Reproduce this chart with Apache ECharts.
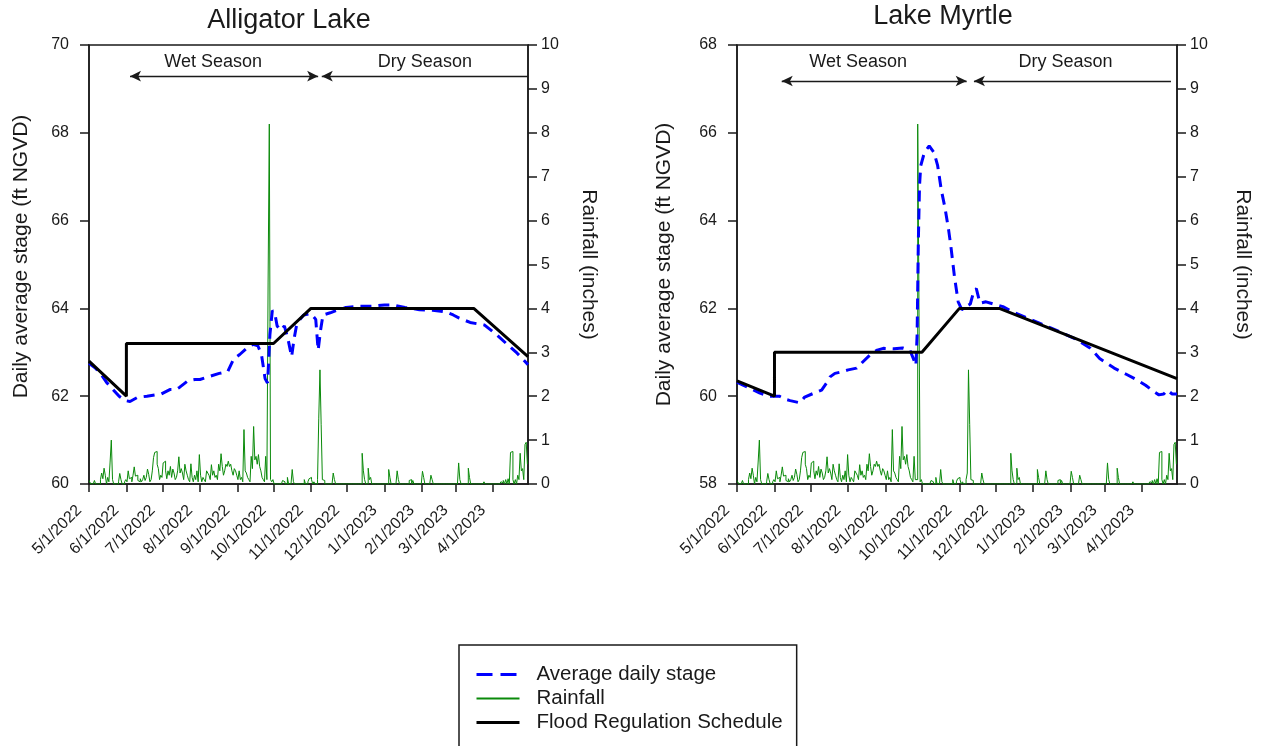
<!DOCTYPE html>
<html>
<head>
<meta charset="utf-8">
<script src="https://cdn.jsdelivr.net/npm/echarts@6.0.0/dist/echarts.min.js"></script>
<style>
  html, body { margin: 0; padding: 0; background: #fff; }
  #chart { width: 1267px; height: 746px; }
</style>
</head>
<body>
<div id="chart"></div>
<script>
// ---- Period of record (water year May 2022 - April 2023) ----
const periodStart = '2022-05-01';
const periodEnd = '2023-04-30';
const monthTicks = ['2022-05-01', '2022-06-01', '2022-07-01', '2022-08-01', '2022-09-01', '2022-10-01',
  '2022-11-01', '2022-12-01', '2023-01-01', '2023-02-01', '2023-03-01', '2023-04-01'];

// ---- Daily rainfall (inches), Alligator Lake gauge, one array per month ----
const rainMay = [0.08, 0.05, 0, 0, 0, 0.08, 0, 0, 0, 0, 0.10, 0.25, 0.12, 0.36, 0.20, 0, 0.15, 0.05, 0.50, 1.00,
  0.10, 0, 0, 0, 0, 0.05, 0.24, 0.10, 0, 0, 0.05];
const rainJun = [0.10, 0.05, 0.30, 0.12, 0.15, 0.05, 0.20, 0.39, 0.18, 0.20, 0.08, 0.05, 0.12, 0.05, 0.10, 0.20,
  0.08, 0.15, 0.34, 0.22, 0.05, 0.10, 0.30, 0.60, 0.72, 0.74, 0.45, 0.35, 0.10, 0.20];
const rainJul = [0.15, 0.48, 0.52, 0.30, 0.12, 0.30, 0.20, 0.40, 0.15, 0.34, 0.25, 0.10, 0.15, 0.30, 0.62, 0.25,
  0.35, 0.25, 0.10, 0.45, 0.30, 0.20, 0.10, 0.05, 0.46, 0.15, 0.05, 0.20, 0.10, 0.30, 0.05];
const rainAug = [0.67, 0.20, 0.05, 0.15, 0.10, 0.05, 0.30, 0.25, 0.20, 0.10, 0.44, 0.20, 0.30, 0.15, 0.20, 0.10,
  0.45, 0.30, 0.69, 0.40, 0.20, 0.30, 0.45, 0.40, 0.52, 0.40, 0.45, 0.30, 0.20, 0.35, 0.30];
const rainSep = [0.20, 0.10, 0.30, 0.10, 0.15, 0.05, 1.24, 0.30, 0.25, 0.15, 0.10, 0.05, 0.63, 0.35, 1.31, 0.55,
  0.63, 0.45, 0.67, 0.40, 0.30, 0.15, 0.10, 0.05, 0.63, 0.10, 4.60, 8.20, 0.10, 0.05];
const rainOct = [0.10, 0, 0, 0, 0, 0, 0, 0, 0.08, 0.05, 0, 0, 0.15, 0, 0, 0, 0.33, 0.05, 0, 0,
  0, 0, 0, 0, 0, 0, 0.10, 0, 0, 0.05, 0.12];
const rainNov = [0.15, 0.10, 0, 0.05, 0, 0, 0.10, 1.50, 2.60, 1.35, 0.10, 0.08, 0, 0, 0, 0, 0, 0, 0, 0.25,
  0.10, 0, 0, 0, 0, 0, 0, 0, 0, 0];
const rainDec = [0, 0, 0, 0, 0, 0, 0, 0, 0, 0, 0, 0, 0, 0.70, 0.30, 0.10, 0, 0, 0.36, 0.10,
  0.15, 0, 0, 0, 0, 0, 0, 0, 0, 0, 0];
const rainJan = [0, 0, 0, 0, 0.33, 0.15, 0, 0, 0, 0, 0, 0.30, 0.10, 0, 0, 0, 0, 0, 0, 0,
  0, 0.08, 0.10, 0, 0.08, 0, 0, 0, 0, 0, 0];
const rainFeb = [0, 0.29, 0.15, 0, 0, 0, 0, 0, 0.20, 0.10, 0, 0, 0, 0, 0, 0, 0, 0, 0, 0,
  0, 0, 0, 0, 0, 0, 0, 0];
const rainMar = [0, 0, 0, 0.48, 0.10, 0, 0, 0, 0, 0, 0, 0.36, 0.15, 0, 0, 0, 0, 0, 0, 0,
  0, 0, 0, 0, 0.05, 0, 0, 0, 0, 0, 0];
const rainApr = [0, 0, 0, 0, 0.03, 0, 0, 0.05, 0.03, 0.08, 0, 0.10, 0, 0.12, 0, 0.72, 0.74, 0.10, 0, 0.10,
  0, 0.20, 0.10, 0.70, 0.30, 0.35, 0.10, 0.90, 0.95, 0.45];

// Days where the Lake Myrtle gauge recorded a different total
const rainMyrtleDiffers = [['2022-09-27', 0.10], ['2022-09-28', 8.20], ['2022-09-29', 4.20], ['2022-11-08', 0.25]];

// ---- Average daily stage (ft NGVD) ----
const stageAlligator = [
  ['2022-05-01', 62.75], ['2022-05-06', 62.65], ['2022-05-11', 62.50], ['2022-05-16', 62.30], ['2022-05-21', 62.15],
  ['2022-05-26', 62.00], ['2022-05-31', 61.90], ['2022-06-04', 61.88], ['2022-06-10', 61.97], ['2022-06-18', 62.00],
  ['2022-06-25', 62.03], ['2022-06-30', 62.05], ['2022-07-07', 62.15], ['2022-07-12', 62.15], ['2022-07-15', 62.20],
  ['2022-07-22', 62.35], ['2022-07-28', 62.38], ['2022-08-01', 62.38], ['2022-08-09', 62.45], ['2022-08-17', 62.52],
  ['2022-08-24', 62.56], ['2022-08-29', 62.85], ['2022-09-03', 62.95], ['2022-09-09', 63.10], ['2022-09-14', 63.18],
  ['2022-09-18', 63.15], ['2022-09-21', 62.95], ['2022-09-24', 62.40], ['2022-09-26', 62.30], ['2022-09-27', 62.80],
  ['2022-09-28', 63.40], ['2022-09-30', 63.95], ['2022-10-02', 63.90], ['2022-10-04', 63.60], ['2022-10-07', 63.50],
  ['2022-10-10', 63.60], ['2022-10-13', 63.30], ['2022-10-16', 62.90], ['2022-10-18', 63.30], ['2022-10-20', 63.60],
  ['2022-10-23', 63.75], ['2022-10-26', 63.85], ['2022-11-01', 63.88], ['2022-11-05', 63.75], ['2022-11-07', 63.05],
  ['2022-11-09', 63.50], ['2022-11-11', 63.85], ['2022-11-17', 63.90], ['2022-11-22', 63.95], ['2022-11-30', 64.02],
  ['2022-12-12', 64.05], ['2022-12-22', 64.05], ['2023-01-01', 64.08], ['2023-01-08', 64.08], ['2023-01-18', 64.02],
  ['2023-01-30', 63.97], ['2023-02-10', 63.96], ['2023-02-21', 63.92], ['2023-02-27', 63.85], ['2023-03-04', 63.78],
  ['2023-03-13', 63.68], ['2023-03-25', 63.62], ['2023-04-04', 63.40], ['2023-04-12', 63.20], ['2023-04-21', 62.98],
  ['2023-04-30', 62.72]
];
const stageMyrtle = [
  ['2022-05-01', 60.32], ['2022-05-06', 60.25], ['2022-05-12', 60.18], ['2022-05-20', 60.07], ['2022-05-28', 60.00],
  ['2022-06-05', 60.00], ['2022-06-10', 59.93], ['2022-06-14', 59.90], ['2022-06-22', 59.85], ['2022-06-26', 59.98],
  ['2022-07-02', 60.05], ['2022-07-10', 60.14], ['2022-07-14', 60.30], ['2022-07-17', 60.44], ['2022-07-21', 60.52],
  ['2022-07-26', 60.55], ['2022-08-01', 60.60], ['2022-08-08', 60.64], ['2022-08-13', 60.78], ['2022-08-19', 60.94],
  ['2022-08-25', 61.05], ['2022-08-30', 61.09], ['2022-09-08', 61.08], ['2022-09-15', 61.10], ['2022-09-21', 61.05],
  ['2022-09-24', 60.85], ['2022-09-26', 60.70], ['2022-09-27', 61.40], ['2022-09-28', 63.50], ['2022-09-29', 64.80],
  ['2022-09-30', 65.25], ['2022-10-03', 65.55], ['2022-10-07', 65.70], ['2022-10-11', 65.55], ['2022-10-14', 65.25],
  ['2022-10-17', 64.70], ['2022-10-20', 64.30], ['2022-10-23', 63.80], ['2022-10-25', 63.40], ['2022-10-28', 62.70],
  ['2022-10-31', 62.15], ['2022-11-03', 61.97], ['2022-11-07', 62.05], ['2022-11-10', 62.10], ['2022-11-13', 62.40],
  ['2022-11-15', 62.45], ['2022-11-18', 62.12], ['2022-11-23', 62.15], ['2022-11-29', 62.10], ['2022-12-07', 62.04],
  ['2022-12-15', 61.92], ['2022-12-30', 61.75], ['2023-01-16', 61.55], ['2023-02-04', 61.32], ['2023-02-17', 61.10],
  ['2023-02-25', 60.86], ['2023-03-09', 60.64], ['2023-03-19', 60.50], ['2023-03-28', 60.37], ['2023-04-04', 60.25],
  ['2023-04-11', 60.10], ['2023-04-15', 60.03], ['2023-04-19', 60.05], ['2023-04-22', 60.14], ['2023-04-26', 60.05],
  ['2023-04-30', 60.05]
];

// ---- Flood regulation schedule (ft NGVD), break points ----
const scheduleAlligator = [['2022-05-01', 62.8], ['2022-06-01', 62.0], ['2022-06-01', 63.2], ['2022-10-01', 63.2],
  ['2022-11-01', 64.0], ['2023-03-16', 64.0], ['2023-04-30', 62.9]];
const scheduleMyrtle = [['2022-05-01', 60.35], ['2022-06-01', 60.0], ['2022-06-01', 61.0], ['2022-10-01', 61.0],
  ['2022-11-01', 62.0], ['2022-12-04', 62.0], ['2023-04-30', 60.4]];

// ---- Season spans drawn as arrows across the top of each panel ----
const seasonsAlligator = [['Wet Season', '2022-06-04', '2022-11-07'], ['Dry Season', '2022-11-10', '2023-04-30']];
const seasonsMyrtle = [['Wet Season', '2022-06-07', '2022-11-07'], ['Dry Season', '2022-11-13', '2023-04-25']];

// ---------------------------------------------------------------------------
const FONT = '"Liberation Sans", Arial, Helvetica, sans-serif';
const INK = '#1a1a1a';

function toTime(s) {
  const [y, m, d] = s.split('-').map(Number);
  return new Date(y, m - 1, d).getTime();
}
function fmtDate(v) {
  const d = new Date(v);
  return (d.getMonth() + 1) + '/' + d.getDate() + '/' + d.getFullYear();
}
const withTime = rows => rows.map(r => [toTime(r[0]), r[1]]);

// Expand the monthly arrays into a [time, inches] daily list
const rainMonths = [rainMay, rainJun, rainJul, rainAug, rainSep, rainOct, rainNov, rainDec, rainJan, rainFeb, rainMar, rainApr];
function dailyRain(overrides) {
  const out = [];
  rainMonths.forEach((month, mi) => {
    month.forEach((v, di) => {
      out.push([new Date(2022, 4 + mi, di + 1).getTime(), v]);
    });
  });
  const byTime = new Map(out.map((p, i) => [p[0], i]));
  (overrides || []).forEach(([d, v]) => { out[byTime.get(toTime(d))][1] = v; });
  return out;
}

const tickTimes = monthTicks.map(toTime);
const lineStyleAxis = { color: INK, width: 1.5 };

// Dates are plotted on a linear millisecond axis with month-start ticks
function xAxisFor(gi) {
  return {
    type: 'value', gridIndex: gi, min: toTime(periodStart), max: toTime(periodEnd),
    axisLine: { show: true, onZero: false, lineStyle: lineStyleAxis },
    axisTick: { show: true, customValues: tickTimes, length: 8, lineStyle: lineStyleAxis },
    axisLabel: { customValues: tickTimes, formatter: fmtDate, rotate: 45, margin: 14, padding: [0, 14, 0, 0],
      fontSize: 16, fontFamily: FONT, color: INK },
    splitLine: { show: false }
  };
}
function stageAxisFor(gi, min, max, gap, namePad) {
  return {
    type: 'value', gridIndex: gi, position: 'left', min: min, max: max, interval: 2,
    name: 'Daily average stage (ft NGVD)', nameLocation: 'middle', nameRotate: 90, nameGap: gap,
    nameTextStyle: { fontSize: 21, fontFamily: FONT, color: INK, padding: namePad },
    axisLine: { show: true, lineStyle: lineStyleAxis },
    axisTick: { show: true, length: 9, lineStyle: lineStyleAxis },
    axisLabel: { margin: 20, fontSize: 16, fontFamily: FONT, color: INK },
    splitLine: { show: false }
  };
}
function rainAxisFor(gi, gap) {
  return {
    type: 'value', gridIndex: gi, position: 'right', min: 0, max: 10, interval: 1,
    name: 'Rainfall (inches)', nameLocation: 'middle', nameRotate: -90, nameGap: gap,
    nameTextStyle: { fontSize: 21, fontFamily: FONT, color: INK },
    axisLine: { show: true, lineStyle: lineStyleAxis },
    axisTick: { show: true, length: 9, lineStyle: lineStyleAxis },
    axisLabel: { margin: 13, fontSize: 16, fontFamily: FONT, color: INK },
    splitLine: { show: false }
  };
}
// Season arrows: the wet span has heads at both ends, the dry span only at its start
function seasonMarks(seasons, level, labelDistance, labelShifts) {
  return {
    silent: true, animation: false,
    symbolSize: [8, 11],
    lineStyle: { color: INK, width: 1.3, type: 'solid' },
    label: { show: true, position: 'insideMiddleTop', distance: labelDistance, formatter: '{b}',
      fontSize: 18, fontFamily: FONT, color: INK },
    data: seasons.map(([name, a, b], i) => [
      { name: name, coord: [toTime(a), level], symbol: 'arrow', label: { offset: [labelShifts[i], 0] } },
      { coord: [toTime(b), level], symbol: i === 0 ? 'arrow' : 'none' }
    ])
  };
}
function panelSeries(gi, rain, stage, schedule, seasons, level, labelDistance, labelShifts) {
  return [
    { name: 'Rainfall', type: 'line', xAxisIndex: gi, yAxisIndex: gi * 2 + 1, step: 'middle',
      symbol: 'none', data: rain, lineStyle: { color: '#0a8a0a', width: 1 }, itemStyle: { color: '#0a8a0a' }, z: 2 },
    { name: 'Average daily stage', type: 'line', xAxisIndex: gi, yAxisIndex: gi * 2,
      symbol: 'none', data: withTime(stage),
      lineStyle: { color: '#0000ff', width: 3, type: [11, 7], cap: 'butt' }, itemStyle: { color: '#0000ff' }, z: 3 },
    { name: 'Flood Regulation Schedule', type: 'line', xAxisIndex: gi, yAxisIndex: gi * 2,
      symbol: 'none', data: withTime(schedule),
      lineStyle: { color: '#000000', width: 3 }, itemStyle: { color: '#000000' }, z: 4,
      markLine: seasonMarks(seasons, level, labelDistance, labelShifts) }
  ];
}

const chart = echarts.init(document.getElementById('chart'), null, { renderer: 'canvas' });
chart.setOption({
  animation: false,
  backgroundColor: '#ffffff',
  graphic: [
    { type: 'text', x: 289, y: 21, style: { text: 'Alligator Lake', font: '27px ' + FONT, fill: INK,
      align: 'center', verticalAlign: 'middle', textAlign: 'center', textVerticalAlign: 'middle' } },
    { type: 'text', x: 943, y: 17, style: { text: 'Lake Myrtle', font: '27px ' + FONT, fill: INK,
      align: 'center', verticalAlign: 'middle', textAlign: 'center', textVerticalAlign: 'middle' } }
  ],
  grid: [
    { left: 89, top: 45, width: 439, height: 439, show: true, borderColor: INK, borderWidth: 1.5, backgroundColor: 'transparent' },
    { left: 737, top: 45, width: 440, height: 439, show: true, borderColor: INK, borderWidth: 1.5, backgroundColor: 'transparent' }
  ],
  xAxis: [xAxisFor(0), xAxisFor(1)],
  yAxis: [stageAxisFor(0, 60, 70, 57, [0, 0, 0, 16]), rainAxisFor(0, 50), stageAxisFor(1, 58, 68, 62, 0), rainAxisFor(1, 55)],
  legend: {
    left: 459, top: 645, height: 140, orient: 'vertical', selectedMode: false,
    data: [
      { name: 'Average daily stage', lineStyle: { type: [16, 8], width: 3 } },
      { name: 'Rainfall', lineStyle: { width: 2 } },
      { name: 'Flood Regulation Schedule', lineStyle: { width: 3 } }
    ],
    itemWidth: 43, itemHeight: 14, itemGap: 3,
    padding: [19, 14, 40, 16],
    borderColor: INK, borderWidth: 1.5,
    itemStyle: { opacity: 0 },
    textStyle: { fontSize: 20.5, fontFamily: FONT, color: INK, lineHeight: 20, padding: [0, 0, 0, 12] }
  },
  series: [
    ...panelSeries(0, dailyRain(), stageAlligator, scheduleAlligator, seasonsAlligator, 69.29, 5, [-11, 0]),
    ...panelSeries(1, dailyRain(rainMyrtleDiffers), stageMyrtle, scheduleMyrtle, seasonsMyrtle, 67.18, 10, [-16, -7])
  ]
});
</script>
</body>
</html>
